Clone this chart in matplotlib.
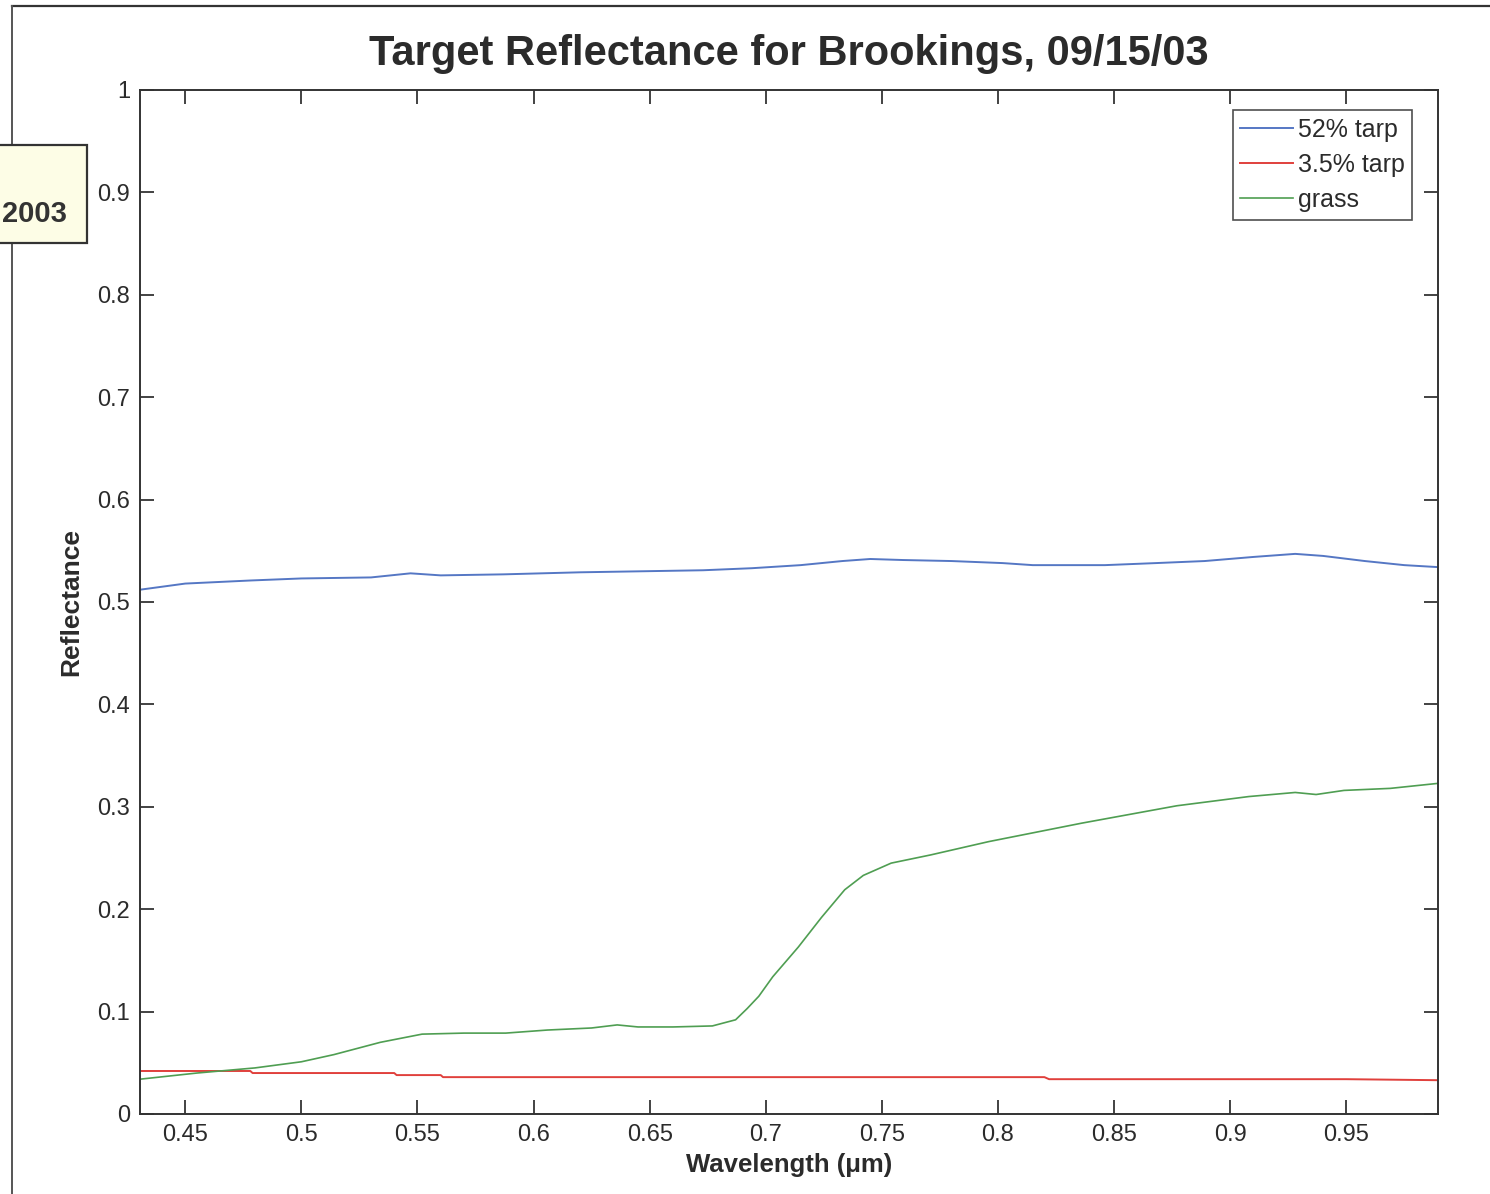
import matplotlib
matplotlib.use("Agg")
import matplotlib.pyplot as plt
from matplotlib.patches import Rectangle
from matplotlib.lines import Line2D

plt.rcParams['font.family'] = ['Liberation Sans', 'DejaVu Sans']

# ---- data ----
tarp52_wl = [0.4305, 0.450, 0.478, 0.500, 0.530, 0.547, 0.560, 0.587, 0.620, 0.673,
             0.694, 0.715, 0.733, 0.745, 0.759, 0.780, 0.802, 0.815, 0.846, 0.868,
             0.889, 0.910, 0.928, 0.940, 0.958, 0.975, 0.990]
tarp52_r = [0.512, 0.518, 0.521, 0.523, 0.524, 0.528, 0.526, 0.527, 0.529, 0.531,
            0.533, 0.536, 0.540, 0.542, 0.541, 0.540, 0.538, 0.536, 0.536, 0.538,
            0.540, 0.544, 0.547, 0.545, 0.540, 0.536, 0.534]

tarp35_wl = [0.4305, 0.478, 0.479, 0.540, 0.541, 0.560, 0.561, 0.600, 0.700, 0.800,
             0.820, 0.822, 0.900, 0.950, 0.990]
tarp35_r = [0.042, 0.042, 0.040, 0.040, 0.038, 0.038, 0.036, 0.036, 0.036, 0.036,
            0.036, 0.034, 0.034, 0.034, 0.033]

grass_wl = [0.4305, 0.455, 0.480, 0.500, 0.514, 0.534, 0.552, 0.570, 0.588, 0.606,
            0.625, 0.636, 0.645, 0.660, 0.677, 0.682, 0.687, 0.692, 0.697, 0.703,
            0.714, 0.724, 0.734, 0.742, 0.754, 0.771, 0.796, 0.836, 0.877, 0.908,
            0.928, 0.937, 0.949, 0.969, 0.990]
grass_r = [0.034, 0.040, 0.045, 0.051, 0.058, 0.070, 0.078, 0.079, 0.079, 0.082,
           0.084, 0.087, 0.085, 0.085, 0.086, 0.089, 0.092, 0.103, 0.115, 0.134,
           0.163, 0.192, 0.219, 0.233, 0.245, 0.253, 0.266, 0.284, 0.301, 0.310,
           0.314, 0.312, 0.316, 0.318, 0.323]

xticks = [0.45, 0.5, 0.55, 0.6, 0.65, 0.7, 0.75, 0.8, 0.85, 0.9, 0.95]
xticklabels = ['0.45', '0.5', '0.55', '0.6', '0.65', '0.7', '0.75', '0.8', '0.85', '0.9', '0.95']
yticks = [0, 0.1, 0.2, 0.3, 0.4, 0.5, 0.6, 0.7, 0.8, 0.9, 1.0]
yticklabels = ['0', '0.1', '0.2', '0.3', '0.4', '0.5', '0.6', '0.7', '0.8', '0.9', '1']
series_names = ['52% tarp', '3.5% tarp', 'grass']

txt = '#2b2b2b'
W, H = 1490, 1194
fig = plt.figure(figsize=(W / 100, H / 100), dpi=100)
ax = fig.add_axes([140 / W, 1 - 1114 / H, (1438 - 140) / W, (1114 - 90) / H])

ax.plot(tarp52_wl, tarp52_r, color='#5577c4', lw=1.4, label=series_names[0])
ax.plot(tarp35_wl, tarp35_r, color='#e0403c', lw=1.4, label=series_names[1])
ax.plot(grass_wl, grass_r, color='#4f9e52', lw=1.2, label=series_names[2])

ax.set_xlim(0.4305, 0.9895)
ax.set_ylim(0, 1)
ax.set_xticks(xticks)
ax.set_xticklabels(xticklabels)
ax.set_yticks(yticks)
ax.set_yticklabels(yticklabels)
ax.tick_params(direction='in', length=10, width=1.2, top=True, right=True,
               labelsize=17, colors='#222222', labelcolor=txt, pad=7)
for s in ax.spines.values():
    s.set_linewidth(1.4)
    s.set_color('#333333')

ax.set_title('Target Reflectance for Brookings, 09/15/03', fontsize=30,
             fontweight='bold', color=txt, pad=18)
ax.set_xlabel('Wavelength (\u03bcm)', fontsize=18.5, fontweight='bold', color=txt, labelpad=5)
ax.set_ylabel('Reflectance', fontsize=19, fontweight='bold', color=txt, labelpad=10)

leg = ax.legend(loc='upper right', bbox_to_anchor=(1 - 26 / 1298, 1 - 20 / 1024),
                fontsize=18, frameon=True, fancybox=False, handlelength=2.1,
                handletextpad=0.2, borderpad=0.3, labelspacing=0.45,
                borderaxespad=0)
leg.get_frame().set_edgecolor('#222222')
leg.get_frame().set_linewidth(1.2)
for t in leg.get_texts():
    t.set_color(txt)

# scanned page frame lines and the "2003" tag
fig.add_artist(Line2D([12 / W, 1], [1 - 6 / H, 1 - 6 / H], color='#333333', lw=1.6))
fig.add_artist(Line2D([12 / W, 12 / W], [0, 1 - 6 / H], color='#555555', lw=1.4))
fig.add_artist(Rectangle((-5 / W, 1 - 243 / H), 92 / W, 98 / H, transform=fig.transFigure,
                         facecolor='#fdfde6', edgecolor='#333333', lw=1.6, zorder=5))
fig.text(2 / W, 1 - 214 / H, '2003', fontsize=21, fontweight='bold', color='#333333',
         ha='left', va='center', zorder=6)

fig.savefig('out.png', dpi=100)
